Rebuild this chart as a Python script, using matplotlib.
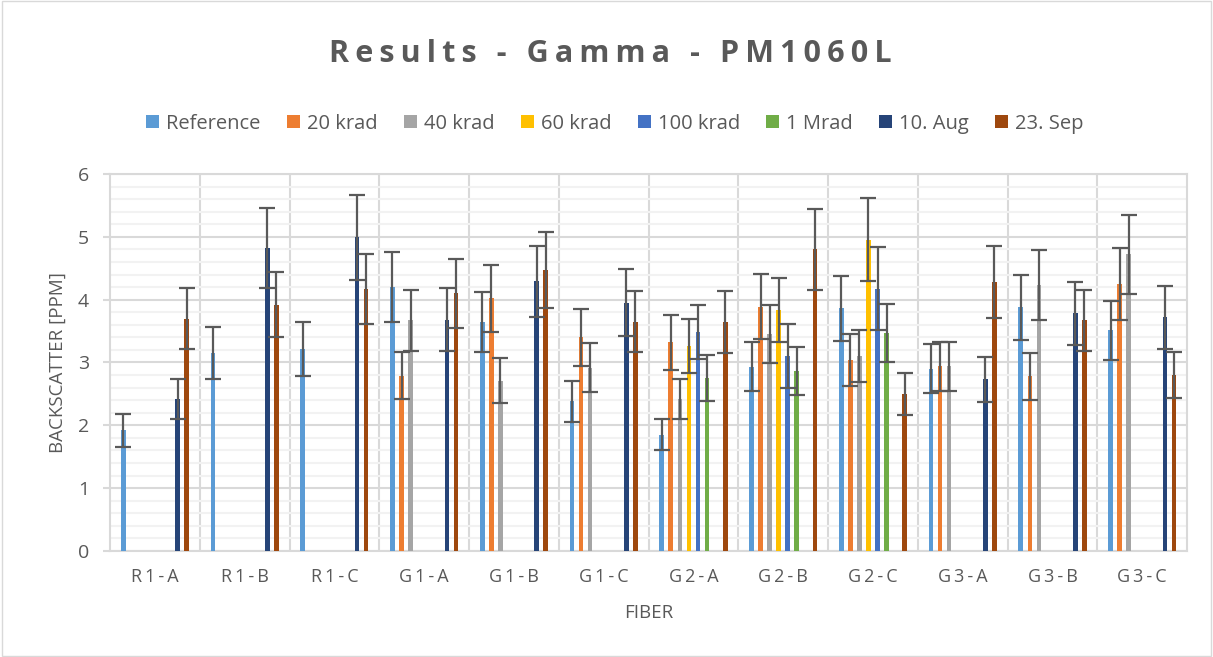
import matplotlib.pyplot as plt
import numpy as np

# fibers on the x axis
FIBERS = ["R1-A", "R1-B", "R1-C", "G1-A", "G1-B", "G1-C",
          "G2-A", "G2-B", "G2-C", "G3-A", "G3-B", "G3-C"]
SERIES = ["Reference", "20 krad", "40 krad", "60 krad",
          "100 krad", "1 Mrad", "10. Aug", "23. Sep"]
COLORS = ["#5B9BD5", "#ED7D31", "#A5A5A5", "#FFC000",
          "#4472C4", "#70AD47", "#264478", "#9E480E"]
TITLE = "Results - Gamma - PM1060L"

# backscatter values, nan = no measurement
nan = np.nan
reference = [1.92, 3.15, 3.21, 4.20, 3.64, 2.38, 1.85, 2.93, 3.86, 2.90, 3.88, 3.51]
krad20 = [nan, nan, nan, 2.79, 4.02, 3.40, 3.32, 3.89, 3.04, 2.94, 2.78, 4.25]
krad40 = [nan, nan, nan, 3.67, 2.71, 2.92, 2.42, 3.45, 3.10, 2.94, 4.23, 4.72]
krad60 = [nan, nan, nan, nan, nan, nan, 3.26, 3.84, 4.95, nan, nan, nan]
krad100 = [nan, nan, nan, nan, nan, nan, 3.48, 3.11, 4.17, nan, nan, nan]
mrad1 = [nan, nan, nan, nan, nan, nan, 2.75, 2.86, 3.47, nan, nan, nan]
aug10 = [2.42, 4.82, 4.99, 3.68, 4.29, 3.95, nan, nan, nan, 2.73, 3.78, 3.72]
sep23 = [3.70, 3.92, 4.17, 4.10, 4.47, 3.65, 3.64, 4.80, 2.50, 4.28, 3.67, 2.80]

# error bar half widths
err_reference = [0.26, 0.42, 0.43, 0.56, 0.48, 0.32, 0.25, 0.39, 0.51, 0.39, 0.52, 0.47]
err_krad20 = [nan, nan, nan, 0.37, 0.53, 0.45, 0.44, 0.52, 0.41, 0.39, 0.37, 0.57]
err_krad40 = [nan, nan, nan, 0.49, 0.36, 0.39, 0.32, 0.46, 0.41, 0.39, 0.56, 0.63]
err_krad60 = [nan, nan, nan, nan, nan, nan, 0.43, 0.51, 0.66, nan, nan, nan]
err_krad100 = [nan, nan, nan, nan, nan, nan, 0.43, 0.51, 0.66, nan, nan, nan]
err_mrad1 = [nan, nan, nan, nan, nan, nan, 0.37, 0.38, 0.46, nan, nan, nan]
err_aug10 = [0.32, 0.64, 0.67, 0.50, 0.57, 0.53, nan, nan, nan, 0.36, 0.50, 0.50]
err_sep23 = [0.49, 0.52, 0.55, 0.55, 0.60, 0.49, 0.49, 0.64, 0.33, 0.57, 0.49, 0.37]

values = [reference, krad20, krad40, krad60, krad100, mrad1, aug10, sep23]
errors = [err_reference, err_krad20, err_krad40, err_krad60,
          err_krad100, err_mrad1, err_aug10, err_sep23]

plt.rcParams['font.family'] = ['Open Sans', 'DejaVu Sans']
TEXT = "#595959"
GRID = "#D9D9D9"


def spaced(s, gap="\u2009"):
    # excel style letter spacing
    return gap.join(s)


fig = plt.figure(figsize=(12.13, 6.57), dpi=100)
ax = fig.add_axes([0.0907, 0.1613, 0.888, 0.5739])

x = np.arange(len(FIBERS))
slot = 0.101
width = 0.052
for i, (name, vals, errs) in enumerate(zip(SERIES, values, errors)):
    pos = x + (i - 3.5) * slot
    ax.bar(pos, vals, width=width, color=COLORS[i], label=name, zorder=3)
    ax.errorbar(pos, vals, yerr=errs, fmt="none", ecolor="#595959",
                elinewidth=1.6, capsize=6, capthick=1.6, zorder=4)

ax.set_xlim(-0.5, len(FIBERS) - 0.5)
ax.set_ylim(0, 6)
ax.set_yticks(range(7))
ax.set_yticks(np.arange(0, 6, 0.2), minor=True)
ax.set_xticks(x)
ax.set_xticklabels([spaced(f) for f in FIBERS])
ax.set_xticks(np.arange(0.5, len(FIBERS) - 1, 1), minor=True)
ax.tick_params(axis="both", which="both", length=0, colors=TEXT, labelsize=13)
ax.tick_params(axis="y", which="major", length=5, color=GRID, width=1.5, pad=10,
               labelsize=14)
ax.tick_params(axis="x", pad=12)

ax.grid(axis="y", which="major", color=GRID, linewidth=1.5, zorder=0)
ax.grid(axis="y", which="minor", color="#F2F2F2", linewidth=1.5, zorder=0)
ax.grid(axis="x", which="minor", color=GRID, linewidth=1.5, zorder=0)
for side in ["left", "right", "top", "bottom"]:
    ax.spines[side].set_color(GRID)
    ax.spines[side].set_linewidth(1.5)

ax.set_xlabel("FIBER", color=TEXT, fontsize=13.5, labelpad=13)
ax.set_ylabel("BACKSCATTER [PPM]", color=TEXT, fontsize=13.5, labelpad=8)

fig.text(0.503, 0.918, spaced(TITLE), ha="center", va="center",
         fontsize=22, fontweight="bold", color=TEXT)
fig.legend(loc="center", bbox_to_anchor=(0.507, 0.812), ncol=8, frameon=False,
           fontsize=14.5, handlelength=0.65, handleheight=0.65, handletextpad=0.35,
           columnspacing=1.3, labelcolor=TEXT)

# chart border
fig.patches.append(plt.Rectangle((0.002, 0.002), 0.996, 0.996, transform=fig.transFigure,
                                 fill=False, edgecolor=GRID, linewidth=1))

fig.savefig("out.png", dpi=100)
